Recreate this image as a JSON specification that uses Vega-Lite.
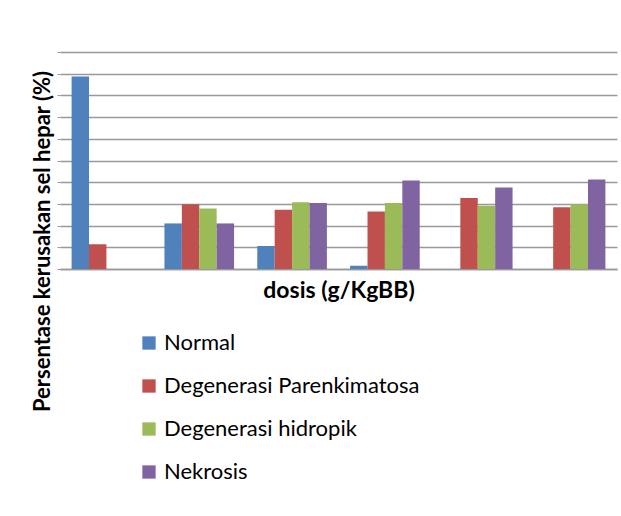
{
  "$schema": "https://vega.github.io/schema/vega-lite/v6.json",
  "width": 557,
  "height": 217,
  "autosize": {"type": "none"},
  "padding": {"left": 60, "top": 52, "right": 4, "bottom": 247},
  "background": "white",
  "data": {
    "values": [
      {"dosis": "D1", "kategori": "Normal", "persen": 88.7},
      {"dosis": "D1", "kategori": "Degenerasi Parenkimatosa", "persen": 11.4},
      {"dosis": "D1", "kategori": "Degenerasi hidropik", "persen": 0},
      {"dosis": "D1", "kategori": "Nekrosis", "persen": 0},
      {"dosis": "D2", "kategori": "Normal", "persen": 21.0},
      {"dosis": "D2", "kategori": "Degenerasi Parenkimatosa", "persen": 29.8},
      {"dosis": "D2", "kategori": "Degenerasi hidropik", "persen": 27.9},
      {"dosis": "D2", "kategori": "Nekrosis", "persen": 21.0},
      {"dosis": "D3", "kategori": "Normal", "persen": 10.6},
      {"dosis": "D3", "kategori": "Degenerasi Parenkimatosa", "persen": 27.3},
      {"dosis": "D3", "kategori": "Degenerasi hidropik", "persen": 30.8},
      {"dosis": "D3", "kategori": "Nekrosis", "persen": 30.4},
      {"dosis": "D4", "kategori": "Normal", "persen": 1.5},
      {"dosis": "D4", "kategori": "Degenerasi Parenkimatosa", "persen": 26.5},
      {"dosis": "D4", "kategori": "Degenerasi hidropik", "persen": 30.4},
      {"dosis": "D4", "kategori": "Nekrosis", "persen": 40.8},
      {"dosis": "D5", "kategori": "Normal", "persen": 0},
      {"dosis": "D5", "kategori": "Degenerasi Parenkimatosa", "persen": 32.7},
      {"dosis": "D5", "kategori": "Degenerasi hidropik", "persen": 29.1},
      {"dosis": "D5", "kategori": "Nekrosis", "persen": 37.6},
      {"dosis": "D6", "kategori": "Normal", "persen": 0},
      {"dosis": "D6", "kategori": "Degenerasi Parenkimatosa", "persen": 28.5},
      {"dosis": "D6", "kategori": "Degenerasi hidropik", "persen": 29.8},
      {"dosis": "D6", "kategori": "Nekrosis", "persen": 41.3}
    ]
  },
  "mark": {"type": "bar"},
  "encoding": {
    "x": {
      "field": "dosis",
      "type": "nominal",
      "scale": {"paddingInner": 0.25, "paddingOuter": 0.125},
      "axis": {
        "title": "dosis (g/KgBB)",
        "labels": false,
        "ticks": false,
        "domain": true,
        "domainColor": "#999999",
        "domainWidth": 1.5,
        "titleFont": "Lato",
        "titleFontSize": 23,
        "titleFontWeight": "bold",
        "titleColor": "#000000",
        "titleBaseline": "alphabetic",
        "titleY": 28
      }
    },
    "xOffset": {
      "field": "kategori",
      "type": "nominal",
      "sort": ["Normal", "Degenerasi Parenkimatosa", "Degenerasi hidropik", "Nekrosis"],
      "scale": {"paddingInner": 0, "paddingOuter": 0}
    },
    "y": {
      "field": "persen",
      "type": "quantitative",
      "scale": {"domain": [0, 100], "nice": false},
      "axis": {
        "title": "Persentase kerusakan sel hepar (%)",
        "values": [0, 10, 20, 30, 40, 50, 60, 70, 80, 90, 100],
        "labels": false,
        "ticks": true,
        "tickSize": 3,
        "tickColor": "#999999",
        "domain": false,
        "grid": true,
        "gridColor": "#999999",
        "gridWidth": 1.5,
        "titleFont": "Lato",
        "titleFontSize": 22,
        "titleFontWeight": "bold",
        "titleColor": "#000000",
        "titleAngle": -90,
        "titleAlign": "center",
        "titleBaseline": "middle",
        "titleX": -18,
        "titleY": 189
      }
    },
    "color": {
      "field": "kategori",
      "type": "nominal",
      "sort": ["Normal", "Degenerasi Parenkimatosa", "Degenerasi hidropik", "Nekrosis"],
      "scale": {
        "domain": ["Normal", "Degenerasi Parenkimatosa", "Degenerasi hidropik", "Nekrosis"],
        "range": ["#4F81BD", "#C0504D", "#9BBB59", "#8064A2"]
      },
      "legend": {
        "title": null,
        "orient": "none",
        "legendX": 78,
        "legendY": 280,
        "direction": "vertical",
        "symbolType": "square",
        "symbolSize": 177,
        "symbolStrokeWidth": 0,
        "labelFont": "Lato",
        "labelFontSize": 22,
        "labelColor": "#000000",
        "labelOffset": 4,
        "rowPadding": 21,
        "labelLimit": 400
      }
    }
  },
  "config": {
    "view": {"stroke": null}
  }
}
